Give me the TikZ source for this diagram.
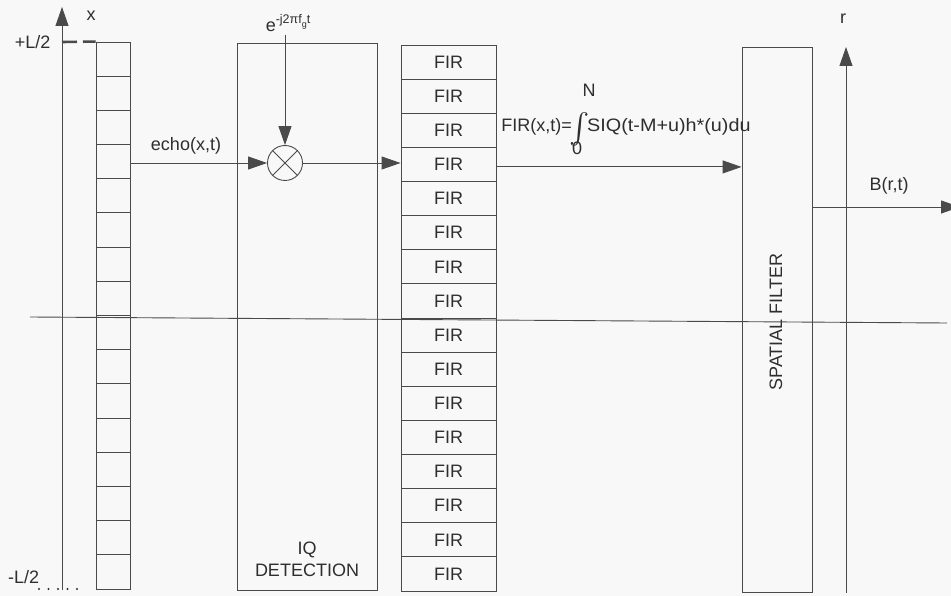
\documentclass[tikz,border=0pt]{standalone}
\usepackage{fontspec}
\setmainfont{Liberation Sans}
\usetikzlibrary{arrows.meta}
\definecolor{ln}{HTML}{4A4A4A}
\definecolor{tx}{HTML}{2E2E2E}
\definecolor{bg}{HTML}{F8F8F8}
\begin{document}
\begin{tikzpicture}[x=1pt,y=-1pt,
  every node/.style={text=tx, font=\fontsize{18}{22}\selectfont},
  box/.style={draw=ln, line width=0.9pt, inner sep=0pt},
  cellbox/.style={box, minimum width=34pt, minimum height=34.19pt},
  firbox/.style={box, minimum width=95pt, minimum height=34.125pt},
  arr/.style={draw=ln, line width=0.9pt, -{Triangle[length=19pt,width=13pt]}},
  plain/.style={draw=ln, line width=0.9pt}]
\fill[bg] (0,0) rectangle (951,596);
\useasboundingbox (0,0) rectangle (951,596);

% element array
\foreach \k in {1,...,16}
  \node[cellbox] (c\k) at (113,{42+34.19*(\k-0.5)}) {};
% FIR array
\foreach \k in {1,...,16}
  \node[firbox] (f\k) at (448.5,{45+34.125*(\k-0.5)}) {FIR};

% IQ detection box
\node[box, minimum width=140pt, minimum height=547pt] (iq) at (307,316.5) {};
\node[align=center] (iqt) at (307,559) {IQ\\DETECTION};

% mixer
\node[draw=ln, line width=0.9pt, circle, minimum size=35pt, inner sep=0pt] (mix) at (285,163) {};
\draw[plain] (mix.north west) -- (mix.south east) (mix.north east) -- (mix.south west);
\node (el) at (288,23) {e\raisebox{0.42em}{\fontsize{12.5}{12}\selectfont -j2πf\raisebox{-0.3em}{\fontsize{9}{9}\selectfont g}t}};
\draw[arr] (el.south -| mix.north) -- (mix.north);

% spatial filter
\node[box, minimum width=70pt, minimum height=545pt] (sf) at (777,319.5) {};
\node[rotate=90] (sft) at (776,322) {SPATIAL FILTER};

% connectors
\draw[arr] (c4.east |- mix.west) -- (mix.west);
\node (echo) at (186,146) {echo(x,t)};
\draw[arr] (mix.east) -- (mix.east -| f4.west);
\draw[arr] ([yshift=-2.5pt]f4.east) -- ([yshift=-2.5pt]f4.east -| sf.west);

% formula
\node[anchor=base east, inner sep=0pt] (fl) at (572,132) {FIR(x,t)=};
\node[inner sep=0pt] (int) at (580,129) {\resizebox{!}{30pt}{$\int$}};
\node[inner sep=0pt] (N) at (589,90) {N};
\node[inner sep=0pt] (z) at (577,148) {0};
\node[anchor=base west, inner sep=0pt] (fr) at (587,132) {\scalebox{1.1}[1]{SIQ(t-M+u)h*(u)du}};

% x axis
\coordinate (xb) at (62,590);
\coordinate (xt) at (62,7);
\draw[arr] (xb) -- (xt);
\node (xl) at (91,16) {x};
\node[anchor=east] (lp) at (54,42) {+L/2};
\draw[draw=ln, line width=2.6pt, dash pattern=on 15pt off 6pt] (62,42) -- (c1.north west);
\node[anchor=base west, inner sep=0pt] (lm) at (8,583) {-L/2};
\coordinate (d1) at (39,589);
\coordinate (d2) at (78,589);
\draw[draw=tx, line width=2.2pt, line cap=round, dash pattern=on 0pt off 9.5pt] (d1) -- (d2);

% r axis
\coordinate (rb) at (846,593);
\coordinate (rt) at (846,47);
\draw[arr] (rb) -- (rt);
\node (rl) at (843,19) {r};

% output
\coordinate (bend) at (960,207);
\draw[arr] (sf.east |- bend) -- (bend);
\node (bl) at (889,186) {B(r,t)};

% horizontal line
\coordinate (h1) at (30,317);
\coordinate (h2) at (947,323);
\draw[plain] (h1) -- (h2);
\end{tikzpicture}
\end{document}
